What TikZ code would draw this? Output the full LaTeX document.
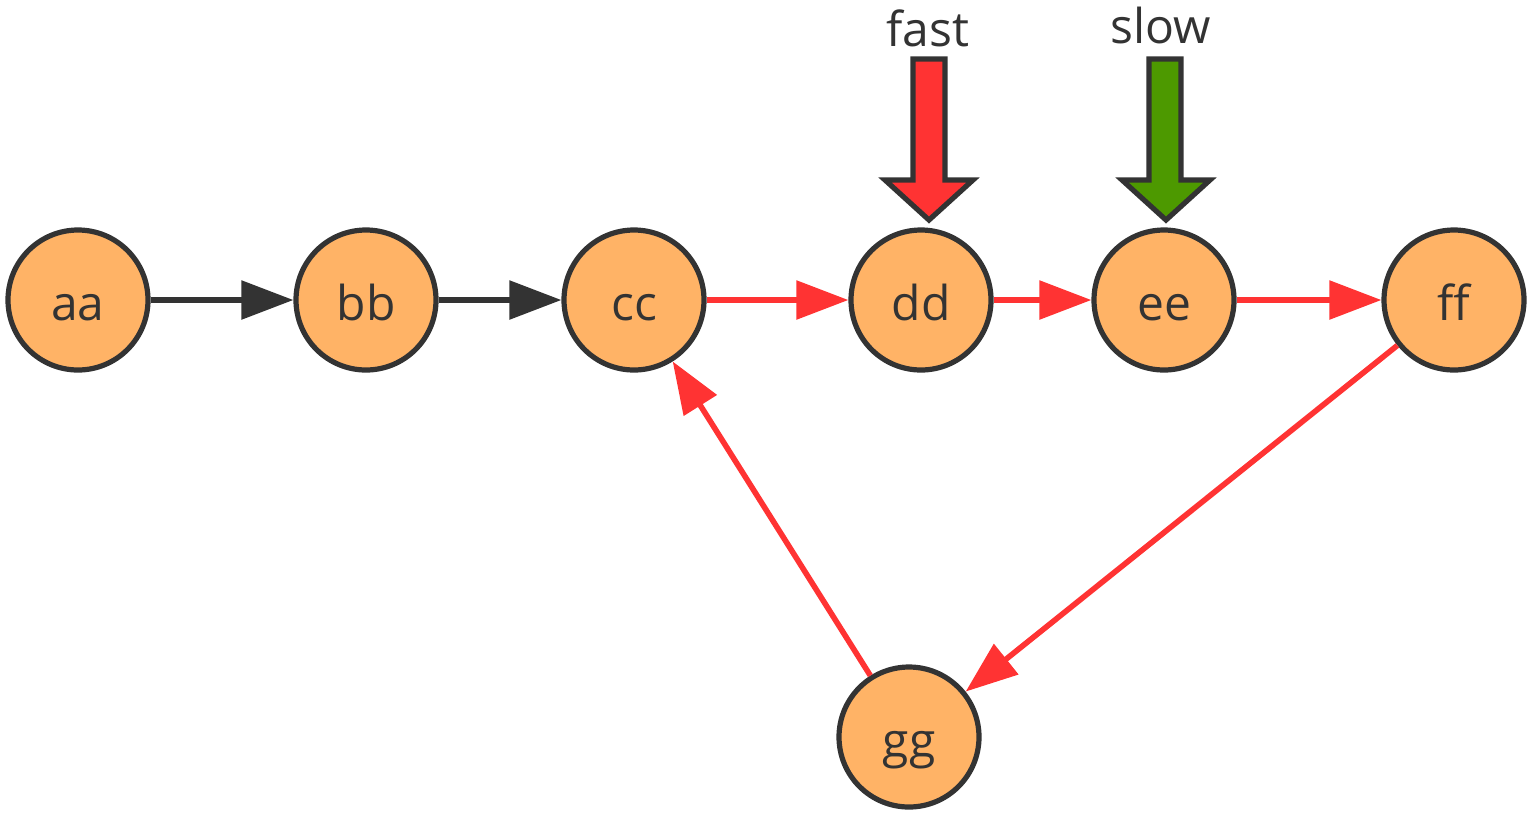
\documentclass[tikz,border=0pt]{standalone}
\usepackage{fontspec}
\setmainfont{Open Sans}
\usetikzlibrary{arrows.meta}
\definecolor{nfill}{HTML}{FFB366}
\definecolor{nline}{HTML}{333333}
\definecolor{ered}{HTML}{FF3333}
\definecolor{bgreen}{HTML}{4D9900}
\begin{document}
\begin{tikzpicture}[x=0.5pt,y=-0.5pt,
  vert/.style={circle,draw=nline,fill=nfill,line width=2.6pt,minimum size=70pt,inner sep=0pt,text height=20pt,text depth=0pt,font=\fontsize{24}{28}\selectfont,text=nline},
  blk/.style={-{Triangle[length=26pt,width=19pt]},line width=2.8pt,draw=nline},
  red/.style={-{Triangle[length=26pt,width=19pt]},line width=2.8pt,draw=ered},
  lbl/.style={font=\fontsize{24}{28}\selectfont,text=nline,inner sep=0pt},
  bigarrow/.style={draw=nline,line width=2.6pt,line join=miter}]
\useasboundingbox (0,0) rectangle (1540,816);
\node[vert] (aa) at (78,300) {aa};
\node[vert] (bb) at (366,300) {bb};
\node[vert] (cc) at (634,300) {cc};
\node[vert] (dd) at (921,300) {dd};
\node[vert] (ee) at (1164,300) {ee};
\node[vert] (ff) at (1454,300) {ff};
\node[vert] (gg) at (909,737) {gg};
\draw[blk] (aa) -- (bb);
\draw[blk] (bb) -- (cc);
\draw[red] (cc) -- (dd);
\draw[red] (dd) -- (ee);
\draw[red] (ee) -- (ff);
\draw[red] (ff) -- (gg);
\draw[red] (gg) -- (cc);
\node[lbl] (fast) at (928,28) {fast};
\node[lbl] (slow) at (1161,25) {slow};
\draw[bigarrow,fill=ered] (913,59) -- (945,59) -- (945,180) -- (973,180) -- (929,220) -- (885,180) -- (913,180) -- cycle;
\draw[bigarrow,fill=bgreen] (1149,59) -- (1181,59) -- (1181,180) -- (1210,180) -- (1166,220) -- (1122,180) -- (1149,180) -- cycle;
\end{tikzpicture}
\end{document}
